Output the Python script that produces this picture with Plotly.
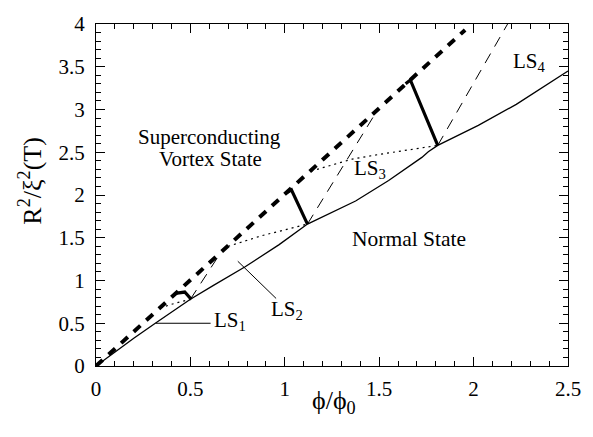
import plotly.graph_objects as go

# Phase boundary between the vortex state and the normal state (solid curve)
boundary_phi = [0.0, 0.1, 0.2, 0.316, 0.41, 0.50, 0.62, 0.79, 0.97, 1.12,
                1.375, 1.55, 1.726, 1.76, 1.81, 2.025, 2.226, 2.377, 2.5]
boundary_r2 = [0.0, 0.165, 0.325, 0.503, 0.645, 0.78, 0.94, 1.16, 1.42, 1.66,
               1.93, 2.17, 2.44, 2.505, 2.58, 2.815, 3.06, 3.27, 3.45]

# Upper critical line (heavy dashed)
upper_phi = [0.0, 1.955]
upper_r2 = [0.0, 3.93]

# Continuations of each LS branch above its crossing point (thin dashed)
cont1_phi = [0.50, 0.657]
cont1_r2 = [0.78, 1.314]
cont2_phi = [1.12, 1.483]
cont2_r2 = [1.66, 2.966]
cont3_phi = [1.81, 2.18]
cont3_r2 = [2.58, 4.0]

# Metastable branches below the crossing points (dotted)
meta1_phi = [0.34, 0.42, 0.50]
meta1_r2 = [0.68, 0.735, 0.78]
meta2_phi = [0.70, 0.88, 1.12]
meta2_r2 = [1.40, 1.525, 1.66]
meta3_phi = [1.14, 1.357, 1.50, 1.674, 1.81]
meta3_r2 = [2.28, 2.42, 2.475, 2.53, 2.58]

# Transition lines between adjacent LS states (heavy solid)
jump1_phi = [0.42, 0.47, 0.505]
jump1_r2 = [0.85, 0.865, 0.78]
jump2_phi = [1.005, 1.035, 1.12]
jump2_r2 = [2.02, 2.06, 1.66]
jump3_phi = [1.64, 1.665, 1.81]
jump3_r2 = [3.30, 3.345, 2.58]

# Leader lines for the LS1 and LS2 labels
lead1_phi = [0.316, 0.607]
lead1_r2 = [0.50, 0.50]
lead2_phi = [0.751, 0.954]
lead2_r2 = [1.225, 0.79]

x_tick_vals = [0, 0.5, 1, 1.5, 2, 2.5]
x_tick_text = ["0", "0.5", "1", "1.5", "2", "2.5"]
y_tick_vals = [0, 0.5, 1, 1.5, 2, 2.5, 3, 3.5, 4]
y_tick_text = ["0", "0.5", "1", "1.5", "2", "2.5", "3", "3.5", "4"]

SERIF = "Liberation Serif, Times New Roman, DejaVu Serif, serif"

fig = go.Figure()


def add_line(x, y, width, dash="solid"):
    fig.add_trace(go.Scatter(
        x=x, y=y, mode="lines",
        line=dict(color="black", width=width, dash=dash),
        hoverinfo="skip", showlegend=False,
    ))


add_line(meta1_phi, meta1_r2, 1.2, "2px,4px")
add_line(meta2_phi, meta2_r2, 1.2, "2px,4px")
add_line(meta3_phi, meta3_r2, 1.2, "2px,4px")
add_line(cont1_phi, cont1_r2, 1.0, "11px,8px")
add_line(cont2_phi, cont2_r2, 1.0, "11px,8px")
add_line(cont3_phi, cont3_r2, 1.0, "11px,8px")
add_line(upper_phi, upper_r2, 4.0, "9px,8px")
add_line(boundary_phi, boundary_r2, 1.3)
add_line(jump1_phi, jump1_r2, 3.2)
add_line(jump2_phi, jump2_r2, 3.2)
add_line(jump3_phi, jump3_r2, 3.2)
add_line(lead1_phi, lead1_r2, 1.0)
add_line(lead2_phi, lead2_r2, 1.0)

labels = [
    ("Superconducting", 0.60, 2.68, "center", 21),
    ("Vortex State", 0.607, 2.42, "center", 21),
    ("Normal State", 1.66, 1.48, "center", 21.5),
    ("LS<sub>1</sub>", 0.617, 0.53, "left", 21),
    ("LS<sub>2</sub>", 0.918, 0.65, "left", 21),
    ("LS<sub>3</sub>", 1.356, 2.31, "left", 21),
    ("LS<sub>4</sub>", 2.20, 3.55, "left", 21),
]
for text, x, y, anchor, size in labels:
    fig.add_annotation(x=x, y=y, text=text, showarrow=False,
                       xanchor=anchor, yanchor="middle",
                       font=dict(family=SERIF, size=size, color="black"))

# Axis titles
fig.add_annotation(xref="paper", yref="paper", x=0.504, y=-0.105,
                   text="ϕ/ϕ<sub>0</sub>", showarrow=False,
                   xanchor="center", yanchor="middle",
                   font=dict(family=SERIF, size=26, color="black"))
fig.add_annotation(xref="paper", yref="paper", x=-0.139, y=0.543,
                   text="R<sup>2</sup>/ξ<sup>2</sup>(T)", showarrow=False,
                   textangle=-90, xanchor="center", yanchor="middle",
                   font=dict(family=SERIF, size=26, color="black"))

axis_common = dict(
    showgrid=False, zeroline=False,
    showline=True, linecolor="black", linewidth=1, mirror="allticks",
    ticks="inside", ticklen=9, tickwidth=1, tickcolor="black",
    tickfont=dict(family=SERIF, size=21, color="black"),
    minor=dict(ticks="inside", ticklen=5, tickwidth=1, tickcolor="black", dtick=0.1),
)

fig.update_xaxes(range=[0, 2.5], tickvals=x_tick_vals, ticktext=x_tick_text,
                 ticklabelstandoff=4, **axis_common)
fig.update_yaxes(range=[0, 4], tickvals=y_tick_vals, ticktext=y_tick_text,
                 ticklabelstandoff=6, **axis_common)

fig.update_layout(
    width=593, height=437,
    margin=dict(l=96, r=23, t=14, b=71),
    paper_bgcolor="white", plot_bgcolor="white",
    font=dict(family=SERIF, color="black"),
)

fig.write_html("out.html")
